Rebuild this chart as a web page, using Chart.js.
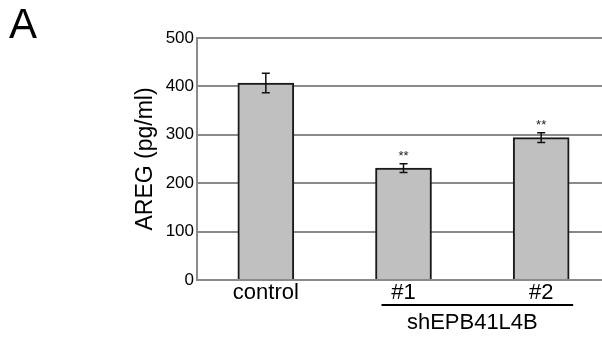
<!DOCTYPE html>
<html>
<head>
<meta charset="utf-8">
<script src="https://cdn.jsdelivr.net/npm/chart.js@4"></script>
<style>
  html, body { margin: 0; padding: 0; background: #fff; overflow: hidden; }
  #wrap { position: relative; width: 610px; height: 339px; }
</style>
</head>
<body>
<div id="wrap"><canvas id="areg-chart"></canvas></div>
<script>
// AREG secretion, values
const groups = ['control', '#1', '#2']
const areg = [407, 231, 294]
const aregErr = [20, 9, 10]
const marks = ['', '**', '**']
const yTicks = [0, 100, 200, 300, 400, 500]

const gridGray = '#8a8a8a'
const font = 'Arial, "Liberation Sans", sans-serif'

// error bars, stars, the panel letter and the shEPB41L4B bracket
const extras = {
    id: 'extras',
    afterDatasetsDraw(chart) {
        const ctx = chart.ctx
        const x = chart.scales.x
        const y = chart.scales.y
        ctx.save()
        ctx.strokeStyle = '#111'
        ctx.lineWidth = 1.5
        areg.forEach((v, i) => {
            const cx = x.getPixelForValue(i)
            const top = y.getPixelForValue(v + aregErr[i])
            const bot = y.getPixelForValue(v - aregErr[i])
            ctx.beginPath()
            ctx.moveTo(cx, top); ctx.lineTo(cx, bot)
            ctx.moveTo(cx - 4, top); ctx.lineTo(cx + 4, top)
            ctx.moveTo(cx - 4, bot); ctx.lineTo(cx + 4, bot)
            ctx.stroke()
            if (marks[i]) {
                ctx.fillStyle = '#222'
                ctx.font = '13px ' + font
                ctx.textAlign = 'center'
                ctx.textBaseline = 'bottom'
                ctx.fillText(marks[i], cx, top - 1)
            }
        })

        // bracket under #1 and #2
        const x1 = x.getPixelForValue(1) - 22
        const x2 = x.getPixelForValue(2) + 32
        ctx.strokeStyle = '#000'
        ctx.lineWidth = 2
        ctx.beginPath()
        ctx.moveTo(x1, 305); ctx.lineTo(x2, 305)
        ctx.stroke()
        ctx.fillStyle = '#000'
        ctx.font = '22px ' + font
        ctx.textAlign = 'center'
        ctx.textBaseline = 'alphabetic'
        ctx.fillText('shEPB41L4B', (x.getPixelForValue(1) + x.getPixelForValue(2)) / 2, 329)

        ctx.font = '42px ' + font
        ctx.textAlign = 'left'
        ctx.fillText('A', 9, 38)
        ctx.restore()
    }
}

new Chart(document.querySelector('#areg-chart').getContext('2d'), {
    type: 'bar',
    data: {
        labels: groups,
        datasets: [{
            label: 'AREG',
            data: areg,
            backgroundColor: '#c0c0c0',
            borderColor: '#1a1a1a',
            borderWidth: 2,
            borderSkipped: 'bottom',
            barThickness: 56
        }]
    },
    options: {
        responsive: true,
        maintainAspectRatio: false,
        animation: false,
        devicePixelRatio: 1,
        layout: { padding: { left: 132, top: 38, right: 0, bottom: 0 } },
        plugins: { legend: { display: false }, tooltip: { enabled: false } },
        scales: {
            x: {
                grid: { display: false, drawTicks: false },
                border: { color: gridGray, width: 2 },
                ticks: { color: '#000', font: { family: font, size: 22 }, padding: 0 },
                afterFit: s => { s.height = 59 }
            },
            y: {
                min: 0,
                max: 500,
                afterBuildTicks: s => { s.ticks = yTicks.map(v => ({ value: v })) },
                grid: { color: gridGray, lineWidth: 2, drawTicks: false },
                border: { color: gridGray, width: 2 },
                ticks: { color: '#000', font: { family: font, size: 17 }, padding: 3 },
                title: { display: true, text: 'AREG (pg/ml)', color: '#000', font: { family: font, size: 23 }, padding: 0 },
                afterFit: s => { s.width = 65 }
            }
        }
    },
    plugins: [extras]
})
</script>
</body>
</html>
